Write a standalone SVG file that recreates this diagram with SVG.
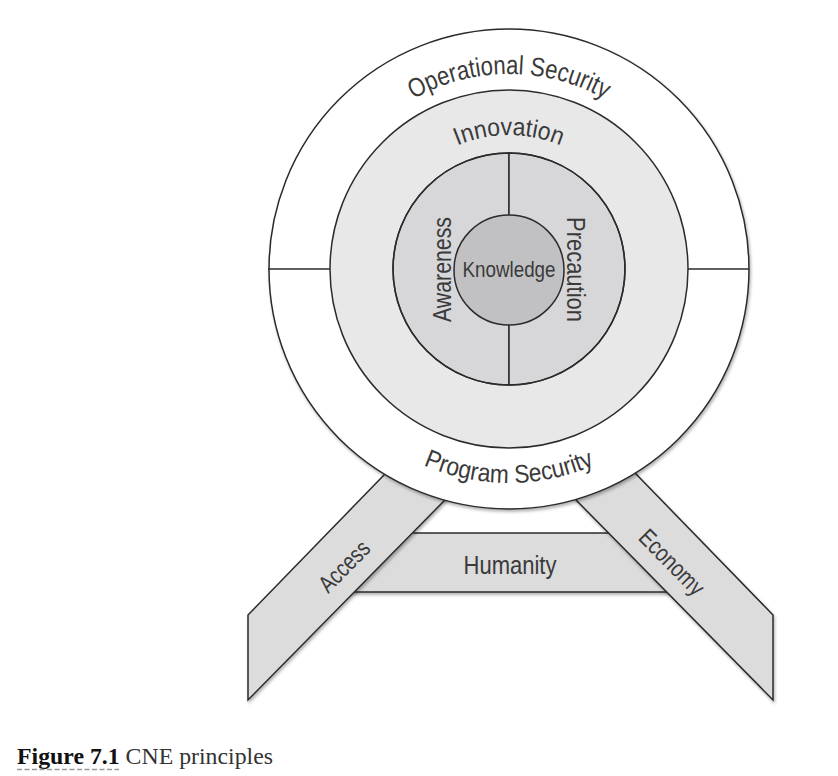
<svg xmlns="http://www.w3.org/2000/svg" width="838" height="776" viewBox="0 0 838 776">
<style>
.ln{stroke:#2b2b2b;stroke-width:1.5;}
.t{font-family:"Liberation Sans Narrow","Liberation Sans",sans-serif;fill:#3a3a3a;}
.cap{font-family:"Liberation Serif",serif;font-size:23.8px;}
</style>
<defs>
<filter id="sh" x="-10%" y="-10%" width="120%" height="120%">
<feDropShadow dx="1.2" dy="2.2" stdDeviation="1.4" flood-color="#000" flood-opacity="0.3"/>
</filter>
<path id="pOp" d="M 314 269 A 195 195 0 0 1 704 269"/>
<path id="pIn" d="M 375 269 A 134 134 0 0 1 643 269"/>
<path id="pPr" d="M 295 269 A 214 214 0 0 0 723 269"/>
</defs>
<rect width="838" height="776" fill="#fff"/>

<g id="humanity">
<rect x="340" y="533" width="341" height="59" fill="#dcdcdd" class="ln" filter="url(#sh)"/>
<text class="t" x="510" y="574" font-size="25" text-anchor="middle" textLength="93" lengthAdjust="spacingAndGlyphs">Humanity</text>
</g>

<g id="access">
<polygon points="418,440 248,615 248,700 504,440" fill="#dcdcdd" class="ln" stroke-linejoin="miter" filter="url(#sh)"/>
<text class="t" font-size="24" text-anchor="middle" transform="translate(350,572) rotate(-45.4)" textLength="62" lengthAdjust="spacingAndGlyphs">Access</text>
</g>

<g id="economy">
<polygon points="603,440 773,615 773,700 517,440" fill="#dcdcdd" class="ln" stroke-linejoin="miter" filter="url(#sh)"/>
<text class="t" font-size="24" text-anchor="middle" transform="translate(666,568) rotate(45.4)" textLength="82" lengthAdjust="spacingAndGlyphs">Economy</text>
</g>

<g id="operational-security">
<circle cx="509" cy="269" r="240" fill="#fff" class="ln" filter="url(#sh)"/>
<text class="t" font-size="26.5"><textPath href="#pOp" startOffset="50%" text-anchor="middle" textLength="200" lengthAdjust="spacingAndGlyphs">Operational Security</textPath></text>
</g>

<g id="program-security">
<text class="t" font-size="25.5"><textPath href="#pPr" startOffset="50%" text-anchor="middle" textLength="176" lengthAdjust="spacingAndGlyphs">Program Security</textPath></text>
</g>

<g id="innovation">
<circle cx="509" cy="269" r="179" fill="#e8e8e9" class="ln"/>
<text class="t" font-size="25"><textPath href="#pIn" startOffset="50%" text-anchor="middle" textLength="106" lengthAdjust="spacingAndGlyphs">Innovation</textPath></text>
</g>

<g id="awareness">
<path d="M 509 153 A 116 116 0 0 0 509 385 Z" fill="#d7d7d9" class="ln"/>
<text class="t" font-size="26" text-anchor="middle" transform="translate(451,269.5) rotate(-90)" textLength="105" lengthAdjust="spacingAndGlyphs">Awareness</text>
</g>

<g id="precaution">
<path d="M 509 153 A 116 116 0 0 1 509 385 Z" fill="#d7d7d9" class="ln"/>
<text class="t" font-size="26" text-anchor="middle" transform="translate(567,269.5) rotate(90)" textLength="105" lengthAdjust="spacingAndGlyphs">Precaution</text>
</g>

<g id="connectors" class="ln" fill="none">
<line x1="268" y1="269" x2="330" y2="269"/>
<line x1="688" y1="269" x2="749" y2="269"/>
<circle cx="509" cy="269" r="116"/>
</g>

<g id="knowledge">
<circle cx="509" cy="270" r="55" fill="#c1c1c3" class="ln"/>
<text class="t" x="509" y="277" font-size="22" text-anchor="middle" textLength="93" lengthAdjust="spacingAndGlyphs">Knowledge</text>
</g>

<g id="caption">
<text class="cap" x="17" y="764"><tspan font-weight="bold" fill="#111">Figure 7.1</tspan><tspan fill="#333"> CNE principles</tspan></text>
<line x1="17" y1="769.5" x2="119" y2="769.5" stroke="#9a9a9a" stroke-width="1.5" stroke-dasharray="5 2.5"/>
</g>
</svg>
